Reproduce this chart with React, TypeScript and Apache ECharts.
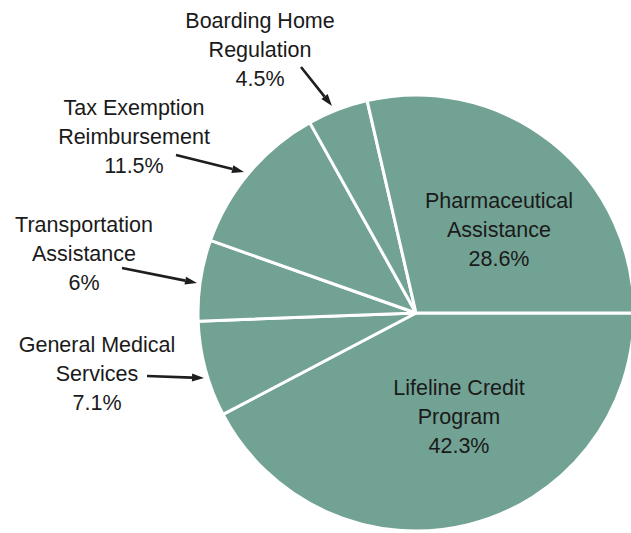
import React, { useEffect, useRef } from "react";
import * as echarts from "echarts";

const categories = [
  "Lifeline Credit\nProgram",
  "General Medical\nServices",
  "Transportation\nAssistance",
  "Tax Exemption\nReimbursement",
  "Boarding Home\nRegulation",
  "Pharmaceutical\nAssistance",
];
const shares = [42.3, 7.1, 6, 11.5, 4.5, 28.6];

// label centres (layout only)
const labelCenters: [number, number][] = [
  [459, 417],
  [97, 374],
  [84, 254],
  [134, 137],
  [260, 50],
  [499, 230],
];
// arrows: [x1, y1, x2, y2]
const arrows: [number, number, number, number][] = [
  [147, 376, 204, 378],
  [122, 268, 197, 283],
  [176, 155, 244, 172],
  [301, 67, 332, 106],
];

function arrowGraphics() {
  const out: any[] = [];
  arrows.forEach(([x1, y1, x2, y2]) => {
    const dx = x2 - x1, dy = y2 - y1;
    const len = Math.hypot(dx, dy);
    const ux = dx / len, uy = dy / len;
    const hl = 12, hw = 4;
    const bx = x2 - ux * hl, by = y2 - uy * hl;
    out.push({
      type: "line",
      shape: { x1, y1, x2: bx, y2: by },
      style: { stroke: "#1e1e1e", lineWidth: 2.6 },
    });
    out.push({
      type: "polygon",
      shape: {
        points: [
          [x2, y2],
          [bx - uy * hw, by + ux * hw],
          [bx + uy * hw, by - ux * hw],
        ],
      },
      style: { fill: "#1e1e1e" },
    });
  });
  return out;
}

export default function App() {
  const ref = useRef<HTMLDivElement>(null);
  useEffect(() => {
    const chart = echarts.init(ref.current!, null, { renderer: "svg" });
    chart.setOption({
      animation: false,
      backgroundColor: "#ffffff",
      series: [
        {
          type: "pie",
          center: [416, 313],
          radius: 218,
          startAngle: 0,
          clockwise: true,
          avoidLabelOverlap: false,
          itemStyle: { color: "#72a294", borderColor: "#ffffff", borderWidth: 3 },
          label: {
            show: true,
            position: "outside",
            formatter: (p: any) => `${p.name}\n${p.value}%`,
            fontFamily: "Liberation Sans, Arial, sans-serif",
            fontSize: 21.5,
            lineHeight: 29,
            color: "#1a1a1a",
            align: "center",
          },
          labelLine: { show: false },
          labelLayout: (params: any) => {
            const c = labelCenters[params.dataIndex];
            return { x: c[0], y: c[1], align: "center", verticalAlign: "middle" };
          },
          emphasis: { disabled: true },
          data: categories.map((name, i) => ({ name, value: shares[i] })),
        },
      ],
      graphic: arrowGraphics(),
    });
    return () => chart.dispose();
  }, []);
  return (
    <div
      ref={ref}
      style={{ position: "fixed", left: 0, top: 0, width: 631, height: 533 }}
    />
  );
}
